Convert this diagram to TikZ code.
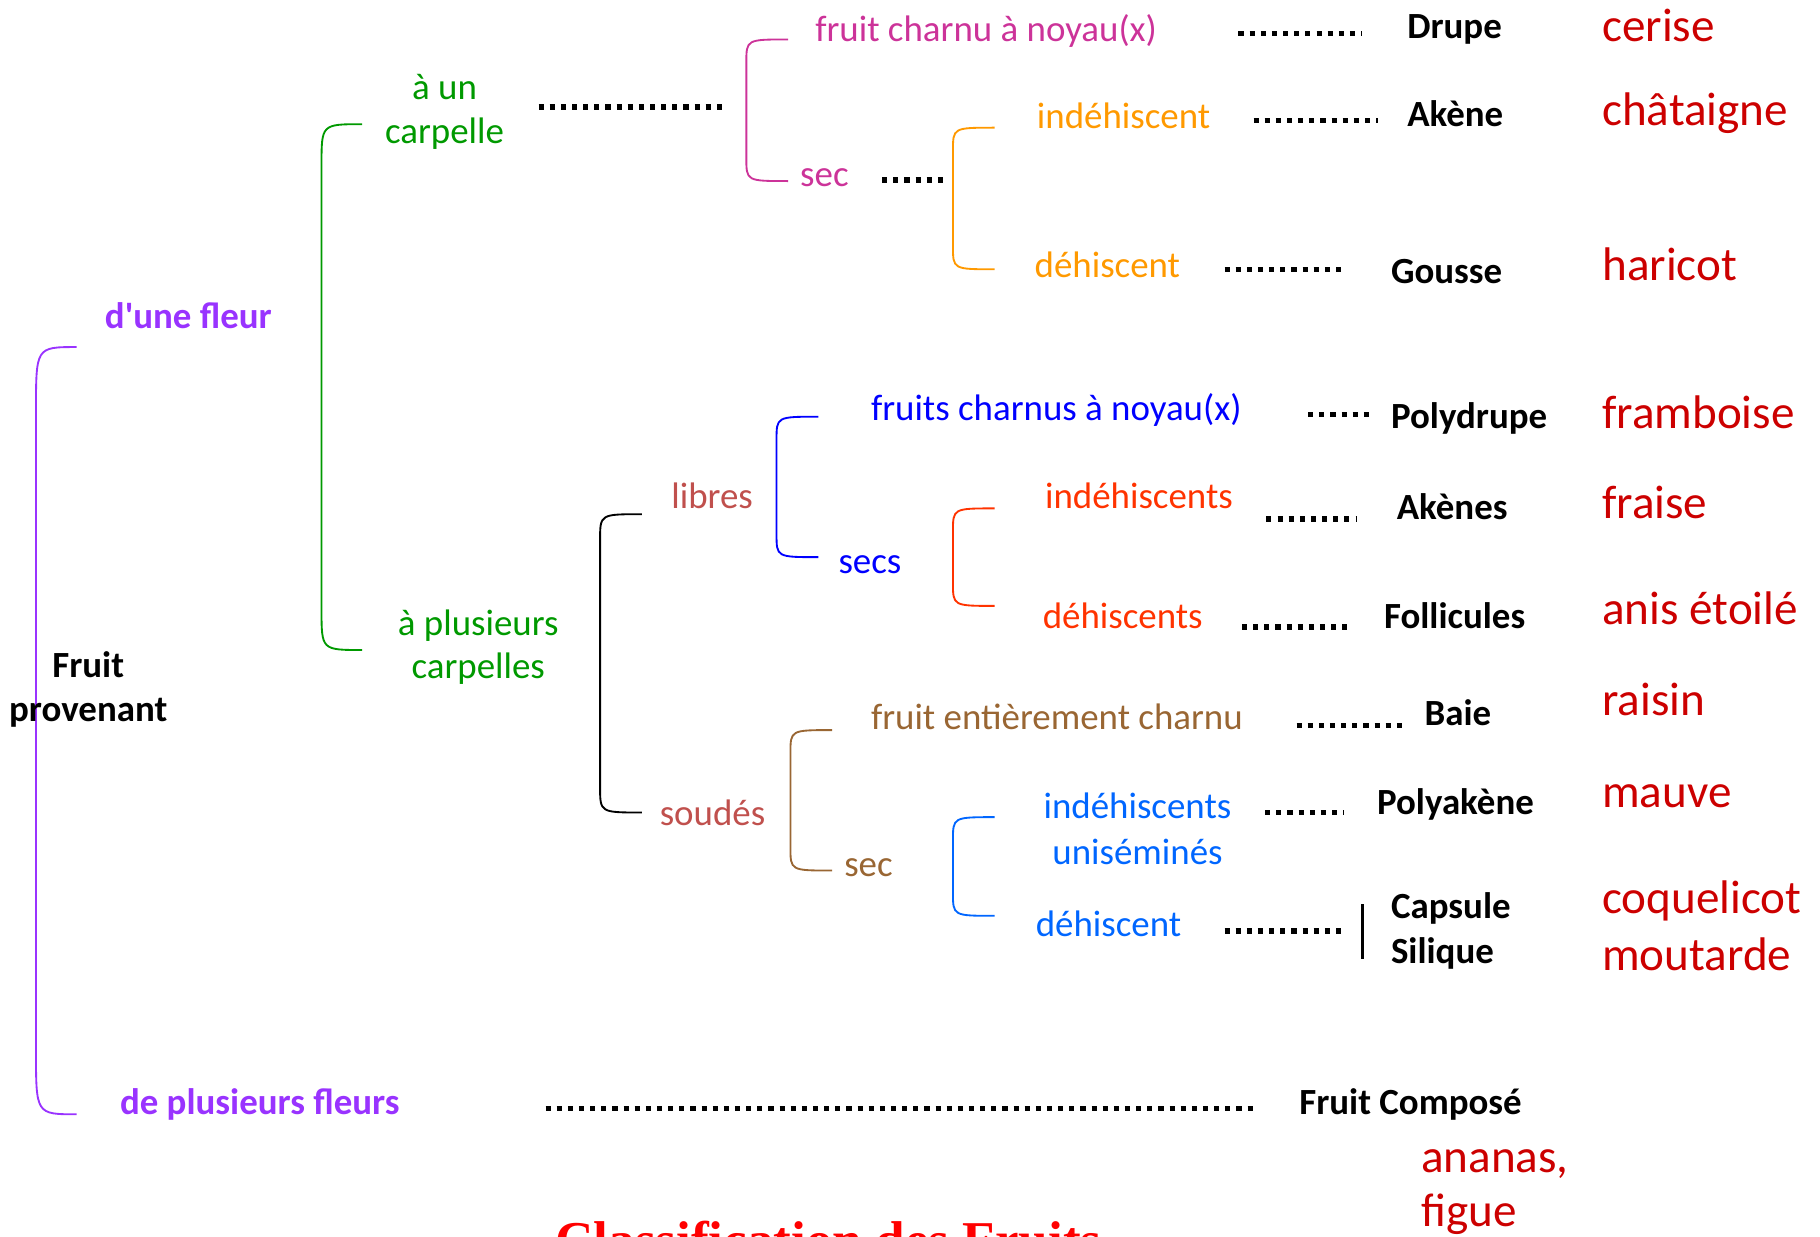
\documentclass[tikz,border=0pt]{standalone}
\usepackage{fontspec}
\setmainfont{Carlito}
\newfontfamily\aposfont{Carlito}
\newfontfamily\titlefont{Liberation Serif}
\definecolor{pinkc}{HTML}{CC3399}
\definecolor{orangec}{HTML}{FF9900}
\definecolor{greenc}{HTML}{009900}
\definecolor{purplec}{HTML}{9933FF}
\definecolor{bluec}{HTML}{0000FF}
\definecolor{rosyc}{HTML}{C0504D}
\definecolor{redorc}{HTML}{FF3300}
\definecolor{brownc}{HTML}{996633}
\definecolor{lbluec}{HTML}{0066FF}
\definecolor{exred}{HTML}{CC0000}
\definecolor{titlered}{HTML}{FF0000}
\newcommand\mybrack[6]{%
  \draw[brk,#1] (#3,#4) .. controls (#2,#4) .. (#2,{#4+#6}) -- (#2,{#5-#6}) .. controls (#2,#5) .. (#3,#5);}
\begin{document}
\begin{tikzpicture}[x=0.5pt,y=-0.5pt,
  lab/.style={anchor=base west,inner sep=0pt,font=\fontsize{15.9}{19}\selectfont},
  labc/.style={lab,anchor=base},
  bl/.style={lab,font=\fontsize{15.9}{19}\selectfont\bfseries},
  blc/.style={bl,anchor=base},
  ex/.style={anchor=base west,inner sep=0pt,text=exred,font=\fontsize{20.3}{24}\selectfont},
  dots/.style={line width=2.4pt,dash pattern=on 2.2pt off 2.6pt},
  brk/.style={line width=0.8pt}]
\useasboundingbox (0,0) rectangle (1568,1065);
\path[clip] (0,0) rectangle (1568,1065);
% brackets
\mybrack{purplec}{31}{66}{299}{960}{55}
\mybrack{greenc}{277}{312}{107}{560}{35}
\mybrack{pinkc}{643}{679}{34}{156}{20}
\mybrack{orangec}{821}{857}{110}{232}{20}
\mybrack{bluec}{669}{705}{359}{480}{20}
\mybrack{black}{517}{553}{443}{700}{22}
\mybrack{redorc}{821}{857}{438}{522}{20}
\mybrack{brownc}{681}{717}{629}{750}{20}
\mybrack{lbluec}{821}{857}{704}{789}{20}
\begin{scope}[yshift=-1.2pt]
% labels
\node[blc] (fruit) at (76,581) {Fruit};
\node[blc] (provenant) at (76,619) {provenant};
\node[bl,text=purplec] (dfleur) at (90,281) {d{\aposfont\bfseries '}une fleur};
\node[bl,text=purplec] (dpf) at (103,958) {de plusieurs fleurs};
\node[labc,text=greenc] (aun) at (383,83) {à un};
\node[labc,text=greenc] (carpelle) at (383,121) {carpelle};
\node[labc,text=greenc] (plus) at (412,545) {à plusieurs};
\node[labc,text=greenc] (carpelles) at (412,582) {carpelles};
\node[lab,text=pinkc] (fcn) at (702,33) {fruit charnu à noyau(x)};
\node[lab,text=pinkc] (sec1) at (689,158) {sec};
\node[lab,text=orangec] (ind1) at (893,108) {indéhiscent};
\node[lab,text=orangec] (deh1) at (891,237) {déhiscent};
\node[lab,text=rosyc] (libres) at (578,436) {libres};
\node[lab,text=rosyc] (soudes) at (568,709) {soudés};
\node[lab,text=bluec] (fcn2) at (750,360) {fruits charnus à noyau(x)};
\node[lab,text=bluec] (secs) at (722,492) {secs};
\node[lab,text=redorc] (ind2) at (900,436) {indéhiscents};
\node[lab,text=redorc] (deh2) at (898,539) {déhiscents};
\node[lab,text=brownc] (fec) at (750,626) {fruit entièrement charnu};
\node[lab,text=brownc] (sec2) at (727,753) {sec};
\node[labc,text=lbluec] (ind3) at (980,703) {indéhiscents};
\node[labc,text=lbluec] (unisem) at (980,742) {uniséminés};
\node[lab,text=lbluec] (deh3) at (892,804) {déhiscent};
% results
\node[bl] (drupe) at (1212,31) {Drupe};
\node[bl] (akene) at (1212,107) {Akène};
\node[bl] (gousse) at (1198,242) {Gousse};
\node[bl] (polydrupe) at (1198,367) {Polydrupe};
\node[bl] (akenes) at (1203,445) {Akènes};
\node[bl] (follicules) at (1192,539) {Follicules};
\node[bl] (baie) at (1227,623) {Baie};
\node[bl] (polyakene) at (1186,699) {Polyakène};
\node[bl] (capsule) at (1198,789) {Capsule};
\node[bl] (silique) at (1198,828) {Silique};
\node[bl] (fcomp) at (1119,958) {Fruit Composé};
% examples
\node[ex] (cerise) at (1380,33) {cerise};
\node[ex] (chat) at (1380,106) {châtaigne};
\node[ex] (haricot) at (1380,239) {haricot};
\node[ex] (framboise) at (1380,367) {framboise};
\node[ex] (fraise) at (1380,444) {fraise};
\node[ex] (anis) at (1380,536) {anis étoilé};
\node[ex] (raisin) at (1380,614) {raisin};
\node[ex] (mauve) at (1380,693) {mauve};
\node[ex] (coquelicot) at (1380,785) {coquelicot};
\node[ex] (moutarde) at (1380,834) {moutarde};
\node[ex] (ananas) at (1224,1008) {ananas,};
\node[ex] (figue) at (1224,1054) {figue};
\end{scope}
\node[anchor=base west,inner sep=0pt,text=titlered,font=\titlefont\fontsize{22.9}{27}\selectfont\bfseries] (title) at (478,1084) {Classification des Fruits};
% dotted connectors
\coordinate (d1a) at (1067,29);  \coordinate (d1b) at (1173,29);
\coordinate (d2a) at (464,92);   \coordinate (d2b) at (625,92);
\coordinate (d3a) at (760,155);  \coordinate (d3b) at (817,155);
\coordinate (d4a) at (1080,104); \coordinate (d4b) at (1187,104);
\coordinate (d5a) at (1055,232); \coordinate (d5b) at (1160,232);
\coordinate (d6a) at (1127,357); \coordinate (d6b) at (1184,357);
\coordinate (d7a) at (1091,447); \coordinate (d7b) at (1169,447);
\coordinate (d8a) at (1070,540); \coordinate (d8b) at (1164,540);
\coordinate (d9a) at (1117,625); \coordinate (d9b) at (1212,625);
\coordinate (d10a) at (1090,700); \coordinate (d10b) at (1158,700);
\coordinate (d11a) at (1055,802); \coordinate (d11b) at (1160,802);
\coordinate (d12a) at (470,955); \coordinate (d12b) at (1082,955);
\foreach \i in {1,...,12} {\draw[dots] (d\i a) -- (d\i b);}
\coordinate (bart) at (1174,779); \coordinate (barb) at (1174,826);
\draw[line width=1.5pt] (bart) -- (barb);
\end{tikzpicture}
\end{document}
